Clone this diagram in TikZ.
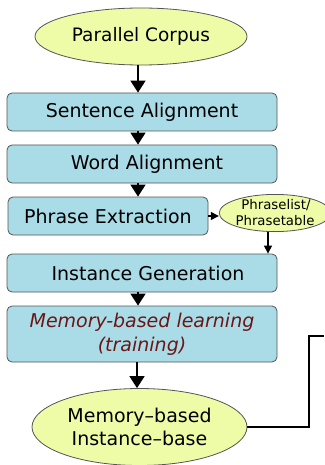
\documentclass[tikz,border=0pt]{standalone}
\usepackage{fontspec}
\setmainfont{DejaVu Sans}
\usetikzlibrary{shapes.geometric,arrows.meta,calc}
\definecolor{boxblue}{HTML}{AADCE8}
\definecolor{elly}{HTML}{EEFCA8}
\definecolor{darkred}{HTML}{6B1616}
\definecolor{edgegray}{HTML}{555555}
\begin{document}
\begin{tikzpicture}[x=1pt,y=-1pt,
  stepbox/.style={draw=edgegray,line width=0.8pt,fill=boxblue,rounded corners=5pt,
    minimum width=270pt,minimum height=38pt,inner sep=0pt,font=\fontsize{19}{23}\selectfont,align=center},
  ellnode/.style={ellipse,draw=edgegray,line width=0.8pt,fill=elly,inner sep=0pt,align=center},
  bigarrow/.style={line width=1.6pt,-{Triangle[length=12pt,width=15pt]}},
  smallarrow/.style={line width=1.2pt,-{Triangle[length=8pt,width=8pt]}}]
\useasboundingbox (0,0) rectangle (324,465);
\fill[white] (0,0) rectangle (324,465);

\node[ellnode,minimum width=212pt,minimum height=57pt,font=\fontsize{18.5}{22}\selectfont] (pc) at (141,36.5) {Parallel Corpus};
\node[stepbox] (sa) at (142,112) {Sentence Alignment};
\node[stepbox] (wa) at (142,164) {\hspace*{10pt}Word Alignment};
\node[stepbox,minimum width=200pt] (pe) at (108,216) {Phrase Extraction};
\node[ellnode,minimum width=94pt,minimum height=36pt,font=\fontsize{13.3}{16}\selectfont] (pl) at (275,213) {\hspace*{2pt}Phraselist/\\Phrasetable};
\node[stepbox] (ig) at (142,273) {\hspace*{12pt}Instance Generation};
\node[stepbox,minimum height=56pt,text=darkred,font=\fontsize{19}{24}\selectfont\itshape] (mbl) at (142,334) {Memory-based learning\\(training)};
\node[ellnode,minimum width=215pt,minimum height=77pt,font=\fontsize{19}{23.5}\selectfont] (ib) at (139.5,427) {Memory–based\\Instance–base};

\draw[bigarrow] (pc.south -| 138,0) -- (sa.north -| 138,0);
\draw[bigarrow] (sa.south -| 138,0) -- (wa.north -| 138,0);
\draw[bigarrow] (wa.south -| 138,0) -- (pe.north -| 138,0);
\draw[smallarrow] (pe.east) -- (pe.east -| pl.west);
\draw[smallarrow] (pl.south -| 268,0) -- (ig.north -| 268,0);
\draw[bigarrow] (ig.south -| 138,0) -- (mbl.north -| 138,0);
\draw[bigarrow] (mbl.south -| 137,0) -- (ib.north -| 137,0);
\coordinate (out) at (324,336);
\draw[line width=2.8pt] (ib.east) -| (309,336) -- (out);
\end{tikzpicture}
\end{document}
